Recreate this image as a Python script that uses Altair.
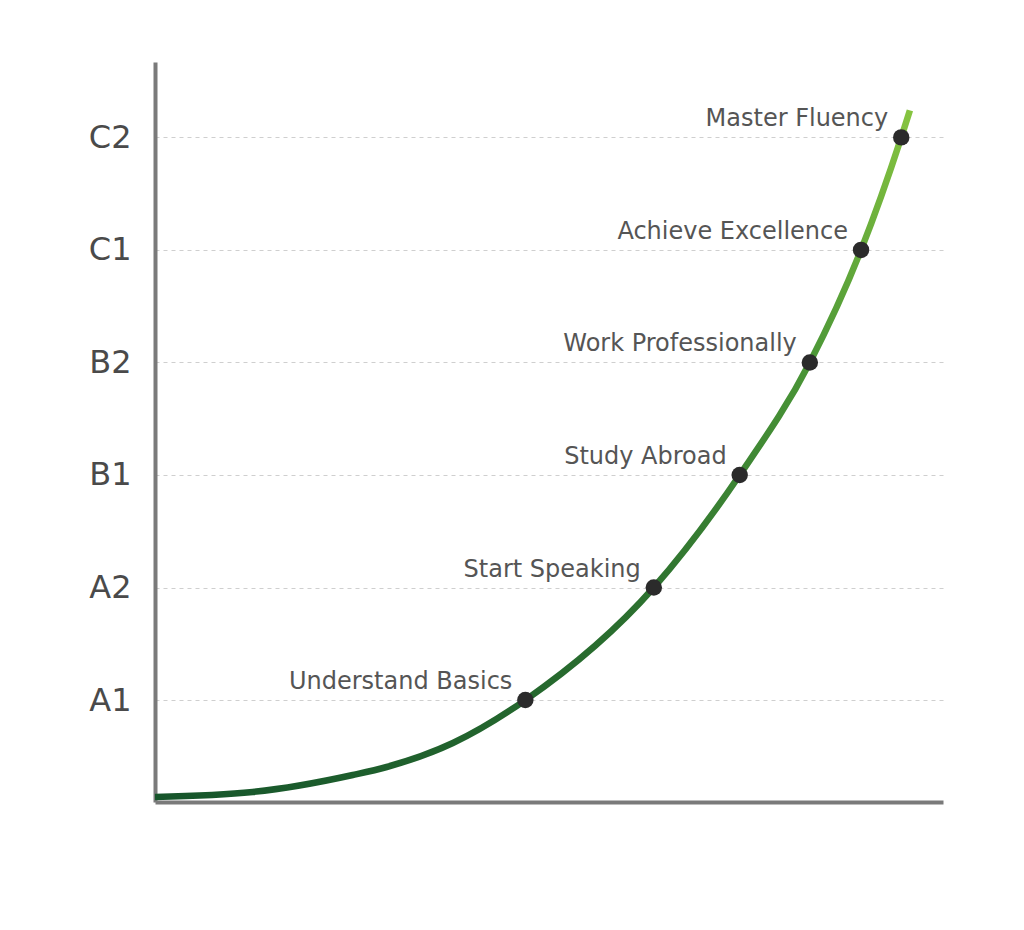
import altair as alt
import pandas as pd

# Levels (y positions 1..6)
level_codes = ["A1", "A2", "B1", "B2", "C1", "C2"]
level_values = [1, 2, 3, 4, 5, 6]

# Milestones
milestone_labels = ["Understand Basics", "Start Speaking", "Study Abroad",
                    "Work Professionally", "Achieve Excellence", "Master Fluency"]
milestone_x = [47.0, 63.3, 74.2, 83.1, 89.6, 94.7]
milestone_y = [1, 2, 3, 4, 5, 6]

# Curve path (progress vs level)
curve_x = [0.0, 12.4, 25.1, 29.4, 37.8, 47.0, 63.3, 74.2, 83.1, 89.6, 94.7, 95.8]
curve_y = [0.139, 0.183, 0.334, 0.405, 0.618, 1.0, 2.0, 3.0, 4.0, 5.0, 6.0, 6.24]

curve_df = pd.DataFrame({"x": curve_x, "y": curve_y, "order": list(range(len(curve_x)))})
pts_df = pd.DataFrame({"x": milestone_x, "y": milestone_y, "label": milestone_labels})

label_expr = "[" + ",".join(f"'{c}'" for c in [""] + level_codes) + "][datum.value]"

xscale = alt.Scale(domain=[0, 100], nice=False, zero=False)
yscale = alt.Scale(domain=[0.094, 6.67], nice=False, zero=False)

x_enc = alt.X("x:Q", scale=xscale,
              axis=alt.Axis(title=None, labels=False, ticks=False, grid=False,
                            domainWidth=4, domainColor="#7a7a7a"))
y_enc = alt.Y("y:Q", scale=yscale,
              axis=alt.Axis(title=None, values=level_values, labelExpr=label_expr,
                            ticks=False, grid=True, gridDash=[4, 4], gridColor="#cfcfcf",
                            gridWidth=1, domainWidth=4, domainColor="#7a7a7a",
                            labelFontSize=32, labelColor="#4a4a4a", labelFont="DejaVu Sans",
                            labelPadding=24))

line = alt.Chart(curve_df).mark_line(
    interpolate="monotone", strokeWidth=6.5, strokeCap="butt",
    stroke=alt.Gradient(gradient="linear",
                        stops=[alt.GradientStop(color="#16552b", offset=0),
                               alt.GradientStop(color="#2b6f2f", offset=0.45),
                               alt.GradientStop(color="#4b9637", offset=0.75),
                               alt.GradientStop(color="#86c440", offset=1)],
                        x1=0, y1=1, x2=1, y2=0)
).encode(x=x_enc, y=y_enc, order="order:Q")

dots = alt.Chart(pts_df).mark_point(filled=True, size=270, color="#2b2b2b", opacity=1).encode(
    x=alt.X("x:Q", scale=xscale), y=alt.Y("y:Q", scale=yscale))

texts = alt.Chart(pts_df).mark_text(align="right", baseline="middle", dx=-13, dy=-18,
                                    fontSize=24, font="DejaVu Sans", color="#555555").encode(
    x=alt.X("x:Q", scale=xscale), y=alt.Y("y:Q", scale=yscale), text="label:N")

chart = alt.layer(line, dots, texts).properties(
    width=788, height=740,
    background="white",
    autosize=alt.AutoSizeParams(type="none"),
    padding={"left": 147, "top": 54, "right": 70, "bottom": 120},
).configure_view(strokeWidth=0, stroke="transparent")

chart.save("out.html", embed_options={"renderer": "svg", "actions": False})
